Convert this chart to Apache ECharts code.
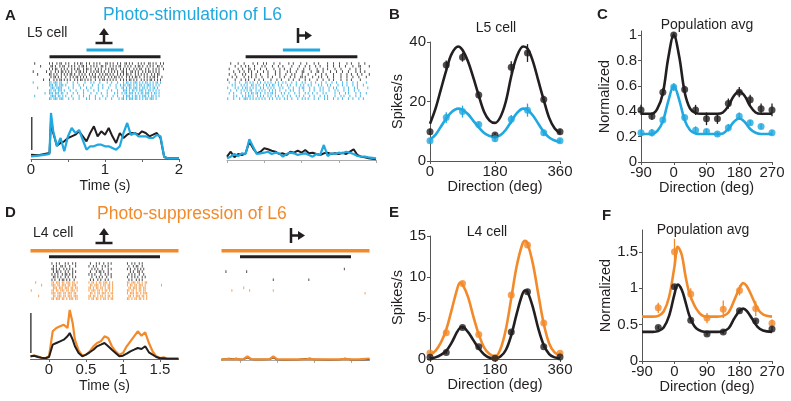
<!DOCTYPE html>
<html><head><meta charset="utf-8">
<script src="https://cdn.jsdelivr.net/npm/echarts@6/dist/echarts.min.js"></script>
<style>html,body{margin:0;padding:0;background:#fff}#c{width:791px;height:401px}</style>
</head><body><div id="c"></div>
<script>
// ---------------- DATA ----------------
// Panel A (photo-stimulation of L6), time in s
const stimA = [0.25, 1.75];          // visual stimulus (black bar)
const lightA = [0.75, 1.25];         // light (blue bar)
const rasterDtFine = 0.02;           // one raster char = 20 ms
const rasterDtCoarse = 0.04;         // one raster char = 40 ms
// A-left raster rows: pre-stimulus (12 chars) + stimulus (76 chars) + after
const rasterAL_black = [
  "--|---------" + "|-|--|-||--|-|---|-|-||--|-|--|-|-|---||-|-|--|-|--||-|-|---|-|-|--||-|-|--|-|" + "------------",
  "------|-----" + "-||-|--|-||--|-|-|--|-||-|--|-|-|--||-|--|-|-|-||--|-|-|--|-||-|--|-|-|--||-|-" + "------------",
  "------------" + "|-|-||--|-|-|--|-|-||--|-||-|--|-|-|--|-|-||-|--|-|-|-|--|-|-||--|-|--|-|-|--" + "|-----------",
  "-|--------|-" + "-|--|-|-||-|-|-|--|-||-|-|--|-|-||-|-|--|-|-|-|--||-|--||-|-|--|-|-||-|-|-|-" + "------------",
  "----|-------" + "||-|-|--|-|-|-||-|--|-|-|--|-|-|--|-|-||-|-|--|-|-|-||-|--|-|-|-|-|--|-|-||-" + "------------",
  "------------" + "-|-||-|-|--|--|-|-||-|-|-|--|-||-|-|-|--|-|-||-|-|--|-|-|-||-|--|-|-|-||-|--|" + "------------",
  "--------|---" + "|--|-|-||-|-|-|--|-|-||-|-|-|--|--|-||-|-|-|-|--|-|-|-||-|-|--|-|-|-||-|-|-|" + "------------"];
const rasterAL_blue = [
  "-|----------" + "||-|||-||---|---|--|----|---|-|---|----|--|---|---|-||-|-|||-|-|-||-|-|-||-|" + "------------",
  "------------" + "|||-||-|||-|----|---|--|-----|---|--|----|---|--|-||-|||-|-|-||-|-|||-|-|-|" + "------------",
  "----|-------" + "-|||-||||----|--|----|---|--|----|--|---|----|---||-|-||-|||-|-||-|-|-||-|-" + "------------",
  "------------" + "||-||-|||-|---|---|----|--|---|--|-----|--|---|---|||-|-||-|-|||-|-||-|-|-|" + "------------",
  "---------|--" + "|||-|||-||--|---|--|---|----|---|--|---|----|-|--|-||-|||-|-|-||-|||-|-||-|" + "------------",
  "--|---------" + "-||||-||-|-|---|----|--|---|---|----|--|---|--|---|-|||-|-||-|-|||-|-||-|-|" + "------------",
  "------------" + "||-|||-|||---|--|---|----|-|---|--|---|---|----|-||-|-|||-||-|-|-||-|||-|--" + "------------"];
// A-right raster rows: 0..2 s
const rasterAR_black = [
  "--|----|---|-----|--|---|-|----|---|-----|--|----|---|----|--|-----|---|---|----|--|----|---|------",
  "-----|---|--|-|---|----|-|----|---|--|-----|----|---|--|---|--|----|---|---|---|----|---||-----|---",
  "-|-----|--|---||--|---|---|----|---|--|---|----|---|---|----|---|--|----|---|-----|---|--|---------",
  "----|---|--|--|-|---|---|--|----|--|----|-|---|---||----|---||--|----|---|---|---|----|--|--|------",
  "-|---|----|-|---|--|--|----|----|--|---|---|-|----|---|----|---|--|----|----|---|--|---|--|----|---",
  "---|--|----|--|-|--|---|---|--|----|--|---|--|---||-|----|---|-|---|---|----|---|---|---|----|-----",
  "|----|---|--|-|---|--|--|----|---|--|----|--|---|---|--|----|---|---|--|----|---|--|-----|---------"];
const rasterAR_blue = [
  "-|---|--|---||-|-|--|-|--|-|-|--|-|--|-|---|--|---|-|---|--|---|--|---|--|---|--|---|--|-----|------",
  "---|-|---|-|-|--||-|-|--|-|-|-||--|-|---|-|---|--|-|--|-|----|-|---|-|----|--|--|---|--|---|-------",
  "|----|-|--|-||-|-|-|--|-|--|-|-|---|-|---|--|---|-||---|--|---|-|---|--|-|----|--|---|-|------|----",
  "--|---|--|-|-|-||--|-|-|-|--|-|-|--|---|--|-|---|--|---|--|---|-|---|---|-|---|--|---|--|----------",
  "-|--|----|--|-|-||-||-|--|-|-||-|---|-|--|---|--|---|-|--|--|---|-|-----|--|---|-|----|--|---|-----",
  "----|-|---|-|-||-|--|-|-|--|-|--|-|--|--|-|---|-|--|---|--|---|--|-|----|---|-|---|---|--|---------",
  "|---|---|--|||-|-|-|-|-|-|--|-|--|-|--|-|--|---|--|-|-|---|--|---|-|---|--|--|---|--|---|--|------"];
const timeAL = [0,0.1,0.2,0.25,0.27,0.3,0.35,0.4,0.45,0.5,0.55,0.6,0.65,0.7,0.75,0.8,0.85,0.9,0.95,1.0,1.05,1.1,1.15,1.2,1.25,1.3,1.35,1.4,1.45,1.5,1.55,1.6,1.65,1.7,1.75,1.8,1.85,2.0];
const psthAL_blue = [2.7,3.3,4.3,5,46,28,12.7,21,7.7,22.7,31,26,29,19,9.3,12.7,12.7,14.3,14.3,12.7,12.7,11,9.3,12.7,26,36,24,26,22.7,22.7,22.7,21,21,24,22.7,2,0.7,0.7];
const psthAL_black = [4.3,3.7,5.3,6,38,26,13.3,16,17.7,21,22.7,24.3,27.7,22.7,17.7,26,32.7,22.7,27.7,24.3,31,22.7,16,26,21,24.3,26,26,24.3,27.7,26,22.7,24.3,26,21,2,0.7,0.7];
const timeAR = [0,0.05,0.1,0.15,0.2,0.25,0.3,0.35,0.4,0.45,0.5,0.55,0.6,0.65,0.7,0.75,0.8,0.85,0.9,0.95,1.0,1.05,1.1,1.15,1.2,1.25,1.3,1.35,1.4,1.45,1.5,1.55,1.6,1.65,1.7,1.75,1.8,1.85,1.9,2.0];
const psthAR_black = [3.3,8.3,2.7,6,5,6.7,18.3,11.7,6.7,8.3,11.7,10.7,9.3,8.3,6,6.7,5,8.3,7.3,9.3,7.3,10,6.7,7.3,6,5,6.7,7.3,6,6.7,6,7.3,6,8.3,10.7,5,3.3,2.7,1.7,0.7];
const psthAR_blue = [1.7,3.3,6,4,6.7,6,20.7,13.3,6,6.7,7.3,8.3,6,7.3,6.7,3.3,6,7.3,6.7,5,6,6.7,5,3.3,6,5,15,4,6.7,6,7.3,6.7,8.3,7.3,6,4,3.3,3.3,2.7,1.7];
const timeTicksA = [0,0.5,1,1.5,2];
const timeLabelsA = [0,1,2];
const scaleBarAL = [9, 42];

// Panel D (photo-suppression of L6)
const stimD = [0, 1.5];
const lightD = [-0.25, 1.75];
// D-left raster rows from -0.25 s: pre (14) + burst1 (18) + gap (7) + burst2 (18) + gap (8) + burst3 (14) + after
const rasterDL_black = [
  "--------------" + "|--|-|---|-|--|-|-" + "-------" + "-|---|-|--|--|-|--" + "--------" + "|--|-|--|-|---" + "---------------------",
  "--------------" + "-|-|--||-|--|---|-" + "-------" + "|--|-|---|-|-|----" + "--------" + "-|--|-||--|---" + "---------------------",
  "--------------" + "||-|-|--|-|-|-|---" + "-------" + "--|-|-|--|---|-|--" + "--------" + "|-|--|-|-|-|--" + "---------------------",
  "--------------" + "-|-||-|--|-|--|-|-" + "-------" + "-|---|-||-|--|----" + "--------" + "--|-|--||-|---" + "---------------------",
  "--------------" + "|-|-|--|-||-|-|---" + "-------" + "|-|-|---|--|-|-|--" + "--------" + "-|-|-|--|--|--" + "---------------------",
  "--------------" + "-||-|-|--|-|--|-|-" + "-------" + "--|--|-|-|--|--|--" + "--------" + "|--|-|-|--|-|-" + "---------------------",
  "--------------" + "|-|--|-||-|-|--|--" + "-------" + "-|-|--|-|--|-|----" + "--------" + "-|-|--|-|-|---" + "---------------------"];
const rasterDL_orange = [
  "---|----------" + "||-|||-||-|||-||-|" + "-------" + "|-||-|-||-|||-|-|-" + "--------" + "||-|||-||-|-||" + "---------------------",
  "-------|------" + "|||-||-|||-||-|||-" + "-------" + "-||-|||-|-||-||-|-" + "--------" + "|-||-||-|||-|-" + "---------|-----------",
  "--------------" + "-|||-|||-|||-||-||" + "-------" + "||-|-||-||-|-||-|-" + "--------" + "-||-|||-||-||-" + "---------------------",
  "|-------------" + "||-||-|||-||-|||-|" + "-------" + "|-|||-||-|-||-|-|-" + "--------" + "||-||-|-||-||-" + "---------------------",
  "--------------" + "|||-|||-||-|||-||-" + "-------" + "-||-|-||-|||-|-||-" + "--------" + "|-|||-||-|-|||" + "---------------------",
  "-----|--------" + "-||-|||-||-|||-|||" + "-------" + "||-||-|-||-|-||-|-" + "--------" + "-||-|-|||-||-|" + "---------------------",
  "--------------" + "||-|||-||-|-|||-||" + "-------" + "|-||-||-|-||-|-||-" + "--------" + "||-|-||-||-|-|" + "---------------------"];
// D-right raster rows from -0.25 s (40 ms per char)
const rasterDR_black = [
  "--------------------------------------------------",
  "--------------------------------------------------",
  "-----------------------------------------|--------",
  "-|------|-----------------------------------------",
  "--------------------------------------------------",
  "--------------------------------------------------",
  "-----------------|-----------|--------------------"];
const rasterDR_orange = [
  "--------------------------------------------------",
  "--------------------------------------------------",
  "-------|------------------------------------------",
  "---|-----|-------|--------------------------------",
  "------------------------------------------------|-",
  "--------------------------------------------------",
  "--------------------------------------------------"];
const timeDL = [-0.25,-0.2,-0.15,-0.1,-0.05,0,0.05,0.1,0.15,0.2,0.25,0.28,0.32,0.35,0.4,0.45,0.5,0.55,0.6,0.65,0.7,0.75,0.8,0.85,0.9,0.95,1.0,1.05,1.1,1.15,1.2,1.25,1.3,1.35,1.4,1.45,1.5,1.55,1.6,1.75];
const psthDL_orange = [2.7,3.3,2.7,1,0.7,2.7,27.7,31,32.7,34.3,31,49,36,19.3,8.7,3.3,4.3,7.7,12.7,16,17.7,22.7,21,12.7,7.7,4.3,6,12.7,17.7,22.7,27.7,23.3,26.7,16,7.7,2.7,1,1.7,0.3,0.3];
const psthDL_black = [2.7,3.3,2,1.3,0.7,2,14.3,16,17.7,19.3,22.7,26,19.3,12.7,6,2.7,4.3,6.7,9.3,12.7,14.3,16,12.7,9.3,6,2.7,3.3,5.3,7.7,9.3,11,10,12.7,6.7,4.3,2,0.7,0.7,0.3,0.3];
const timeDR = [-0.25,-0.15,-0.1,-0.05,0,0.05,0.1,0.15,0.2,0.3,0.4,0.45,0.5,0.6,0.8,0.9,0.95,1.0,1.2,1.35,1.42,1.5,1.6,1.75];
const psthDR_orange = [0.7,1,0.5,1.2,0.6,1,3.5,1,0.6,0.7,0.8,3.5,0.8,0.6,0.6,0.8,1.2,0.7,0.6,0.7,1.2,0.6,0.6,1.5];
const psthDR_black = [0.5,1.5,0.8,1.5,0.5,0.8,2.5,0.8,0.5,0.5,0.8,2.5,0.5,0.3,0.4,1.2,1.5,0.4,0.3,0.5,1.5,0.3,0.3,0.5];
const timeTicksD = [0,0.5,1,1.5];
const timeLabelsD = [0,0.5,1,1.5];
const scaleBarDL = [6, 46];

// Panel B: L5 cell tuning (spikes/s)
const dirB = [0,45,90,135,180,225,270,315,360];
const ptsB_black = [9.8,32.3,34.9,22.2,8.7,31.5,36.3,20.7,9.8];
const errB_black = [1,1.5,1.5,1.2,0.8,2,3,1.2,1];
const ptsB_blue = [6.8,14.6,16.6,12.3,7.5,14.0,17.1,9.5,6.8];
const errB_blue = [0.8,1.8,2,1,1,1.5,2.2,1,0.8];
const fitDirB = [0,15,30,45,60,78,90,105,120,135,150,165,180,195,210,225,240,258,270,285,300,315,330,345,360];
const fitB_black = [12.5,17.5,24,30.5,36,38.5,37.3,33.5,28,22,16.5,13.6,12.8,14.8,20,28.5,35,38.5,37.8,33.5,27,20.5,14.5,11,9.3];
const fitB_blue = [7.2,8.8,11.5,14.3,16.5,17.6,17.2,15.8,13.5,11.3,9.4,8.4,8.1,8.7,10.5,13.3,16,17.6,17.2,15.3,12.5,9.8,7.9,6.9,6.4];

// Panel C: population average (normalized)
const dirC = [-90,-60,-30,0,30,60,90,120,150,180,210,240,270];
const ptsC_black = [0.41,0.36,0.55,1.0,0.57,0.41,0.34,0.34,0.46,0.55,0.49,0.42,0.41];
const errC_black = [0.04,0.03,0.03,0.02,0.03,0.04,0.05,0.04,0.04,0.04,0.04,0.04,0.05];
const ptsC_blue = [0.23,0.23,0.33,0.59,0.35,0.25,0.24,0.22,0.27,0.36,0.31,0.28,0.23];
const errC_blue = [0.02,0.03,0.02,0.03,0.02,0.03,0.02,0.02,0.03,0.03,0.02,0.02,0.02];
const fitDirC = [-90,-75,-60,-45,-30,-15,0,15,30,45,60,75,90,105,120,135,150,165,180,195,210,225,240,255,270];
const fitC_black = [0.38,0.38,0.38,0.42,0.54,0.82,1.0,0.83,0.55,0.42,0.385,0.38,0.38,0.38,0.38,0.39,0.44,0.52,0.555,0.52,0.44,0.39,0.38,0.38,0.38];
const fitC_blue = [0.22,0.22,0.22,0.245,0.32,0.48,0.60,0.49,0.33,0.25,0.225,0.22,0.22,0.22,0.22,0.225,0.26,0.315,0.345,0.315,0.26,0.23,0.22,0.22,0.22];

// Panel E: L4 cell tuning (spikes/s)
const dirE = [0,45,90,135,180,225,270,315,360];
const ptsE_orange = [0.73,3.2,9.2,3.0,0.16,7.8,13.9,4.4,0.7];
const errE_orange = [0.15,0.2,0.3,0.2,0.1,0.25,0.35,0.2,0.15];
const ptsE_black = [0.2,0.8,3.85,1.5,0.1,3.3,8.2,1.5,0.25];
const errE_black = [0.1,0.15,0.2,0.15,0.1,0.2,0.3,0.15,0.1];
const fitDirE = [0,15,30,45,60,75,83,90,105,120,135,150,165,180,195,210,225,240,255,263,270,285,300,315,330,345,360];
const fitE_orange = [0.5,1.0,2.0,3.6,6.0,8.5,9.3,9.1,7.6,5.2,3.0,1.4,0.6,0.3,1.2,3.6,7.4,11.3,13.9,14.4,14.1,11.6,7.9,4.3,1.9,0.8,0.45];
const fitE_black = [0.05,0.2,0.5,1.0,2.0,3.3,3.8,3.9,3.3,2.3,1.3,0.55,0.15,0.05,0.3,1.1,2.9,5.5,7.8,8.35,8.2,6.3,3.7,1.7,0.6,0.2,0.1];

// Panel F: population average (normalized)
const dirF = [-45,0,45,90,135,180,225,270];
const ptsF_orange = [0.73,1.50,0.92,0.59,0.71,0.97,0.72,0.52];
const errF_orange = [0.07,0.18,0.08,0.07,0.12,0.07,0.1,0.05];
const ptsF_black = [0.46,1.02,0.56,0.37,0.40,0.69,0.55,0.44];
const errF_black = [0.02,0.03,0.02,0.02,0.03,0.02,0.02,0.04];
const fitDirF = [-90,-60,-45,-30,-15,0,9,20,30,40,50,60,75,90,120,135,150,165,180,190,200,215,230,245,270];
const fitF_orange = [0.61,0.61,0.62,0.68,0.88,1.3,1.57,1.46,1.18,0.95,0.82,0.72,0.63,0.61,0.61,0.62,0.67,0.83,1.0,1.07,1.03,0.88,0.72,0.64,0.61];
const fitF_black = [0.40,0.40,0.41,0.46,0.62,0.92,1.05,0.98,0.82,0.64,0.52,0.45,0.41,0.40,0.40,0.41,0.45,0.58,0.69,0.72,0.69,0.58,0.47,0.42,0.40];

const dirTicks360 = [0,180,360];
const dirTicksPop = [-90,0,90,180,270];
const yTicksB = [0,20,40];
const yTicksC = [0,0.2,0.4,0.6,0.8,1];
const yTicksE = [0,5,10,15];
const yTicksF = [0,0.5,1,1.5];

// ---------------- STYLE / LAYOUT ----------------
const BLUE = '#20a8e0', ORANGE = '#f28a2a', BLACK = '#231f20', AXIS = '#555';
const FONT = '"Liberation Sans", Arial, sans-serif';

const zip = (xs, ys) => xs.map((x, i) => [x, ys[i]]);
const zip3 = (xs, ys, es) => xs.map((x, i) => [x, ys[i], es[i]]);
function raster(rows, t0, dt, offset) {
  const pts = [];
  rows.forEach((s, r) => { for (let i = 0; i < s.length; i++) if (s[i] === '|') pts.push([t0 + (i + 0.5) * dt, r + offset + 0.5]); });
  return pts;
}

const grids = [
  {left: 31, top: 46, width: 148, height: 54},     // 0 A-left raster
  {left: 31, top: 109, width: 148, height: 50},    // 1 A-left psth
  {left: 227, top: 46, width: 149, height: 54},    // 2 A-right raster
  {left: 227, top: 110, width: 149, height: 50},   // 3 A-right psth
  {left: 30.5, top: 246, width: 148, height: 54},  // 4 D-left raster
  {left: 30.5, top: 309, width: 148, height: 50},  // 5 D-left psth
  {left: 221.5, top: 246, width: 148, height: 54}, // 6 D-right raster
  {left: 221.5, top: 310, width: 148, height: 50}, // 7 D-right psth
  {left: 430, top: 42, width: 130, height: 119},   // 8 B
  {left: 641, top: 31, width: 131, height: 131},   // 9 C
  {left: 430, top: 236, width: 130, height: 123},  // 10 E
  {left: 642, top: 230, width: 130, height: 131}   // 11 F
];

const hiddenX = (gi, min, max) => ({type: 'value', gridIndex: gi, min, max, show: false});
const hiddenY = (gi, min, max, inverse) => ({type: 'value', gridIndex: gi, min, max, inverse: !!inverse, show: false});
function timeAxis(gi, min, max, ticks, labels, showLabels, lineColor) {
  return {
    type: 'value', gridIndex: gi, min, max,
    axisLine: {show: true, onZero: false, lineStyle: {color: lineColor, width: 1}},
    axisTick: {show: true, length: 3, customValues: ticks, lineStyle: {color: lineColor}},
    axisLabel: {show: showLabels, customValues: labels, fontSize: 15, color: BLACK, fontFamily: FONT, margin: 3},
    splitLine: {show: false},
    name: showLabels ? 'Time (s)' : '', nameLocation: 'middle', nameGap: 20,
    nameTextStyle: {fontSize: 14, color: BLACK, fontFamily: FONT}
  };
}
function tuneAxis(gi, min, max, ticks, name, isY, gap) {
  return {
    type: 'value', gridIndex: gi, min, max,
    axisLine: {show: true, onZero: false, lineStyle: {color: AXIS, width: 1}},
    axisTick: {show: true, length: 3, customValues: ticks, lineStyle: {color: AXIS}},
    axisLabel: {customValues: ticks, fontSize: 15, color: BLACK, fontFamily: FONT, margin: isY ? 4 : 3},
    splitLine: {show: false},
    name, nameLocation: 'middle', nameGap: gap,
    nameTextStyle: {fontSize: 14.5, color: BLACK, fontFamily: FONT}
  };
}

const xAxes = [
  hiddenX(0, 0, 2), timeAxis(1, 0, 2, timeTicksA, timeLabelsA, true, '#666'),
  hiddenX(2, 0, 2), timeAxis(3, 0, 2, timeTicksA, timeLabelsA, false, '#aaa'),
  hiddenX(4, -0.25, 1.75), timeAxis(5, -0.25, 1.75, timeTicksD, timeLabelsD, true, '#666'),
  hiddenX(6, -0.25, 1.75), timeAxis(7, -0.25, 1.75, timeTicksD, timeLabelsD, false, '#aaa'),
  tuneAxis(8, 0, 360, dirTicks360, 'Direction (deg)', false, 18),
  tuneAxis(9, -90, 270, dirTicksPop, 'Direction (deg)', false, 18),
  tuneAxis(10, 0, 360, dirTicks360, 'Direction (deg)', false, 18),
  tuneAxis(11, -90, 270, dirTicksPop, 'Direction (deg)', false, 18)
];
const yAxes = [
  hiddenY(0, -6, 14, true), hiddenY(1, 0, 50),
  hiddenY(2, -6, 14, true), hiddenY(3, 0, 50),
  hiddenY(4, -6, 14, true), hiddenY(5, 0, 50),
  hiddenY(6, -6, 14, true), hiddenY(7, 0, 50),
  tuneAxis(8, 0, 40, yTicksB, 'Spikes/s', true, 24),
  tuneAxis(9, 0, 1.0315, yTicksC, 'Normalized', true, 27),
  tuneAxis(10, 0, 15, yTicksE, 'Spikes/s', true, 24),
  tuneAxis(11, 0, 1.8, yTicksF, 'Normalized', true, 27)
];

const series = [];
function addLine(ai, data, color, width, smooth, z) {
  series.push({type: 'line', xAxisIndex: ai, yAxisIndex: ai, data, showSymbol: false, smooth: smooth || false,
    lineStyle: {color, width}, itemStyle: {color}, z: z || 2, silent: true});
}
function addRaster(ai, data, color) {
  series.push({type: 'scatter', xAxisIndex: ai, yAxisIndex: ai, data, symbol: 'rect', symbolSize: [1, 2.6],
    itemStyle: {color}, silent: true});
}
function addPoints(ai, xs, ys, es, color) {
  series.push({type: 'custom', xAxisIndex: ai, yAxisIndex: ai, data: zip3(xs, ys, es), encode: {x: 0, y: 1}, silent: true, z: 3,
    renderItem: (p, api) => {
      const x = api.value(0), y = api.value(1), e = api.value(2);
      const a = api.coord([x, y - e]), b = api.coord([x, y + e]);
      return {type: 'line', shape: {x1: a[0], y1: a[1], x2: b[0], y2: b[1]}, style: {stroke: color, lineWidth: 1.3}};
    }});
  series.push({type: 'scatter', xAxisIndex: ai, yAxisIndex: ai, data: zip(xs, ys), symbol: 'circle', symbolSize: 7,
    itemStyle: {color}, z: 4, silent: true});
}
function addStimBar(ai, interval, y, color, width) {
  addLine(ai, [[interval[0], y], [interval[1], y]], color, width);
}

// A-left
addStimBar(0, lightA, -4.5, BLUE, 3);
addStimBar(0, stimA, -2, BLACK, 3);
addRaster(0, raster(rasterAL_black, 0, rasterDtFine, 0), BLACK);
addRaster(0, raster(rasterAL_blue, 0, rasterDtFine, 7), BLUE);
addLine(1, [[0.01, scaleBarAL[0]], [0.01, scaleBarAL[1]]], '#444', 1.5);
addLine(1, zip(timeAL, psthAL_black), BLACK, 2);
addLine(1, zip(timeAL, psthAL_blue), BLUE, 2.2, false, 3);
// A-right
addStimBar(2, lightA, -4.5, BLUE, 3);
addStimBar(2, stimA, -2, BLACK, 3);
addRaster(2, raster(rasterAR_black, 0, rasterDtFine, 0), BLACK);
addRaster(2, raster(rasterAR_blue, 0, rasterDtFine, 7), BLUE);
addLine(3, zip(timeAR, psthAR_black), BLACK, 2);
addLine(3, zip(timeAR, psthAR_blue), BLUE, 2.2, false, 3);
// D-left
addStimBar(4, lightD, -4.2, ORANGE, 3.5);
addStimBar(4, stimD, -2, BLACK, 3);
addRaster(4, raster(rasterDL_black, -0.25, rasterDtFine, 0), BLACK);
addRaster(4, raster(rasterDL_orange, -0.25, rasterDtFine, 7), ORANGE);
addLine(5, [[-0.245, scaleBarDL[0]], [-0.245, scaleBarDL[1]]], '#444', 1.5);
addLine(5, zip(timeDL, psthDL_orange), ORANGE, 2.2);
addLine(5, zip(timeDL, psthDL_black), BLACK, 2, false, 3);
// D-right
addStimBar(6, lightD, -4.2, ORANGE, 3.5);
addStimBar(6, stimD, -2, BLACK, 3);
addRaster(6, raster(rasterDR_black, -0.25, rasterDtCoarse, 0), BLACK);
addRaster(6, raster(rasterDR_orange, -0.25, rasterDtCoarse, 7), ORANGE);
addLine(7, zip(timeDR, psthDR_black), BLACK, 1.5);
addLine(7, zip(timeDR, psthDR_orange), ORANGE, 2.2, false, 3);
// B
addLine(8, zip(fitDirB, fitB_black), BLACK, 2.6, 0.35);
addLine(8, zip(fitDirB, fitB_blue), BLUE, 2.6, 0.35);
addPoints(8, dirB, ptsB_black, errB_black, BLACK);
addPoints(8, dirB, ptsB_blue, errB_blue, BLUE);
// C
addLine(9, zip(fitDirC, fitC_black), BLACK, 2.6, 0.35);
addLine(9, zip(fitDirC, fitC_blue), BLUE, 2.6, 0.35);
addPoints(9, dirC, ptsC_black, errC_black, BLACK);
addPoints(9, dirC, ptsC_blue, errC_blue, BLUE);
// E
addLine(10, zip(fitDirE, fitE_orange), ORANGE, 2.6, 0.35);
addLine(10, zip(fitDirE, fitE_black), BLACK, 2.6, 0.35);
addPoints(10, dirE, ptsE_orange, errE_orange, ORANGE);
addPoints(10, dirE, ptsE_black, errE_black, BLACK);
// F
addLine(11, zip(fitDirF, fitF_orange), ORANGE, 2.6, 0.35);
addLine(11, zip(fitDirF, fitF_black), BLACK, 2.6, 0.35);
addPoints(11, dirF, ptsF_orange, errF_orange, ORANGE);
addPoints(11, dirF, ptsF_black, errF_black, BLACK);

// ---------------- TEXT & ICONS ----------------
function txt(x, y, text, size, color, align, bold) {
  return {type: 'text', x, y, silent: true, style: {text, fill: color, font: (bold ? 'bold ' : '') + size + 'px ' + FONT,
    textAlign: align || 'left', textVerticalAlign: 'middle', align: align || 'left', verticalAlign: 'middle'}};
}
function seg(x1, y1, x2, y2) {
  return {type: 'line', silent: true, shape: {x1, y1, x2, y2}, style: {stroke: BLACK, lineWidth: 2.5}};
}
function tri(points) { return {type: 'polygon', silent: true, shape: {points}, style: {fill: BLACK}}; }
function upArrow(cx, by) {
  return [seg(cx - 8.5, by, cx + 8.5, by), seg(cx, by, cx, by - 9), tri([[cx - 5, by - 8], [cx + 5, by - 8], [cx, by - 15]])];
}
function rightArrow(bx, cy) {
  return [seg(bx, cy - 7.5, bx, cy + 7.5), seg(bx, cy, bx + 8, cy), tri([[bx + 7, cy - 4.5], [bx + 7, cy + 4.5], [bx + 14, cy]])];
}

const graphics = [
  txt(5, 16, 'A', 15, BLACK, 'left', true),
  txt(389, 15, 'B', 15, BLACK, 'left', true),
  txt(597, 15, 'C', 15, BLACK, 'left', true),
  txt(5, 213, 'D', 15, BLACK, 'left', true),
  txt(389, 213, 'E', 15, BLACK, 'left', true),
  txt(602, 216, 'F', 15, BLACK, 'left', true),
  txt(103, 15, 'Photo-stimulation of L6', 17.5, BLUE, 'left'),
  txt(97, 214, 'Photo-suppression of L6', 17.5, ORANGE, 'left'),
  txt(27, 33, 'L5 cell', 14, BLACK, 'left'),
  txt(33, 233, 'L4 cell', 14, BLACK, 'left'),
  txt(496, 28, 'L5 cell', 14, BLACK, 'center'),
  txt(707, 25, 'Population avg', 14, BLACK, 'center'),
  txt(487, 232, 'L4 cell', 14, BLACK, 'center'),
  txt(703, 230, 'Population avg', 14, BLACK, 'center'),
  ...upArrow(104, 43),
  ...rightArrow(298, 35.5),
  ...upArrow(104, 243),
  ...rightArrow(291, 235.5)
];

const chart = echarts.init(document.getElementById('c'), null, {renderer: 'canvas'});
chart.setOption({
  animation: false,
  backgroundColor: '#fff',
  grid: grids,
  xAxis: xAxes,
  yAxis: yAxes,
  series,
  graphic: graphics
});
</script>
</body></html>
